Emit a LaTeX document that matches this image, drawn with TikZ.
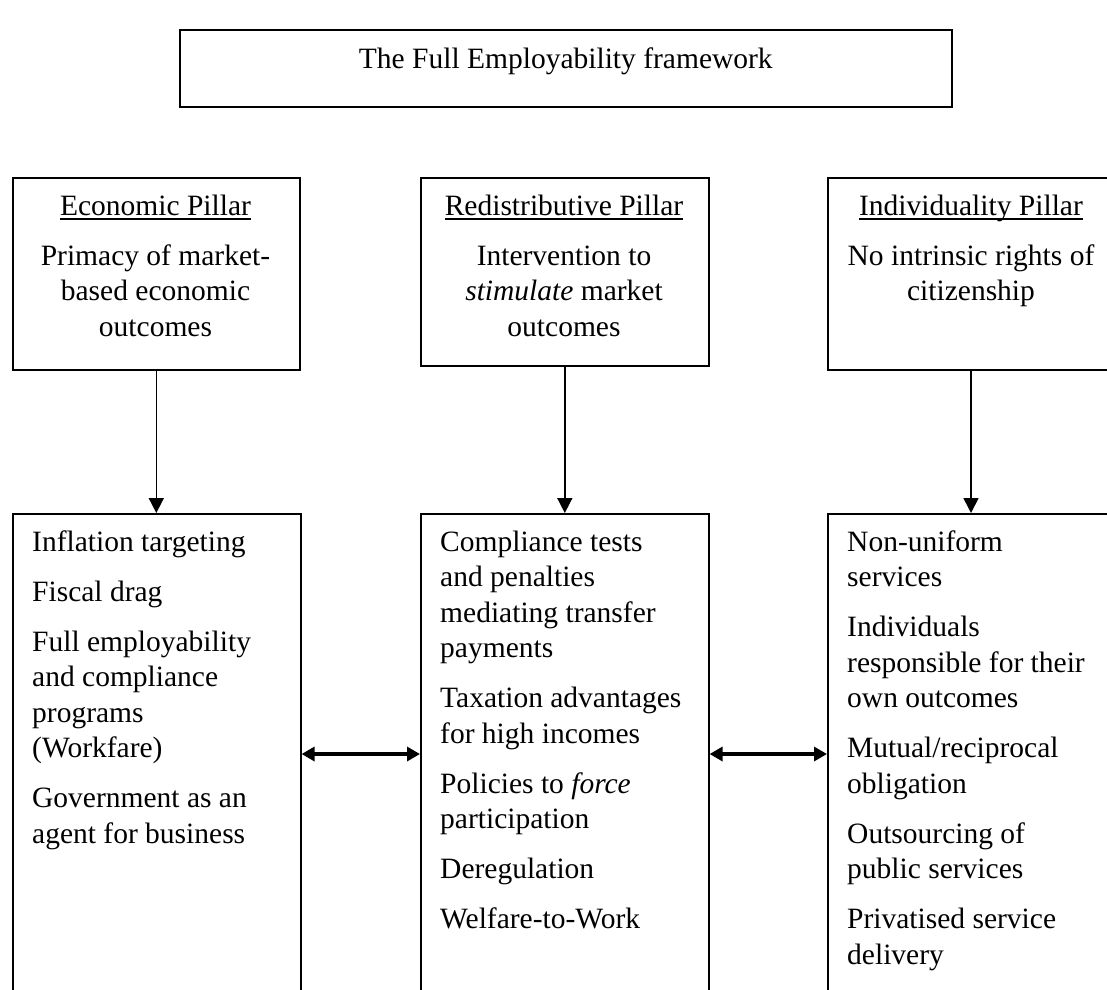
\documentclass[tikz,border=0pt]{standalone}
\usepackage{fontspec}
\setmainfont{Liberation Serif}
\usetikzlibrary{arrows.meta}
\newcommand\myul[1]{\setbox0\hbox{#1}\rlap{\rule[-4.5pt]{\wd0}{1.4pt}}\box0}
\begin{document}
\begin{tikzpicture}[x=1pt,y=-1pt,
  box/.style={draw=black, line width=1.6pt, inner sep=0pt, anchor=north west},
  txt/.style={inner sep=0pt, font=\fontsize{29.5}{35.5}\selectfont},
  listtxt/.style={txt, anchor=north west, align=left},
  headtxt/.style={txt, anchor=north, align=center},
  down/.style={line width=1.6pt, -{Triangle[width=15pt,length=15pt]}},
  both/.style={line width=3.2pt, {Triangle[width=14pt,length=13pt]}-{Triangle[width=14pt,length=13pt]}}]
\clip (0,0) rectangle (1107,989);
\fill[white] (0,0) rectangle (1107,989);
% title
\node[box, minimum width=772pt, minimum height=77pt] (title) at (179,29) {};
\node[headtxt] (titletxt) at (title.north |- 0,43) {\strut The Full Employability framework};
% top pillar boxes
\node[box, minimum width=287pt, minimum height=192pt] (eco) at (12,177) {};
\node[box, minimum width=288pt, minimum height=188pt] (red) at (420,177) {};
\node[box, minimum width=290pt, minimum height=192pt] (ind) at (827,177) {};
\node[headtxt] (ecotxt) at (155.5,190) {\strut\myul{Economic Pillar}\\[14.5pt]Primacy of market-\\based economic\\outcomes};
\node[headtxt] (redtxt) at (564,190) {\strut\myul{Redistributive Pillar}\\[14.5pt]Intervention to\\\textit{stimulate} market\\outcomes};
\node[headtxt] (indtxt) at (971,190) {\strut\myul{Individuality Pillar}\\[14.5pt]No intrinsic rights of\\citizenship};
% bottom boxes
\node[box, minimum width=288pt, minimum height=500pt] (ecol) at (12,513) {};
\node[box, minimum width=288pt, minimum height=500pt] (redl) at (420,513) {};
\node[box, minimum width=290pt, minimum height=500pt] (indl) at (827,513) {};
\node[listtxt] (ecoltxt) at (32,526) {\strut Inflation targeting\\[14.5pt]Fiscal drag\\[14.5pt]Full employability\\and compliance\\programs\\(Workfare)\\[14.5pt]Government as an\\agent for business};
\node[listtxt] (redltxt) at (440,526) {\strut Compliance tests\\and penalties\\mediating transfer\\payments\\[14.5pt]Taxation advantages\\for high incomes\\[14.5pt]Policies to \textit{force}\\participation\\[14.5pt]Deregulation\\[14.5pt]Welfare-to-Work};
\node[listtxt] (indltxt) at (847,526) {\strut Non-uniform\\services\\[14.5pt]Individuals\\responsible for their\\own outcomes\\[14.5pt]Mutual/reciprocal\\obligation\\[14.5pt]Outsourcing of\\public services\\[14.5pt]Privatised service\\delivery};
% connectors
\draw[down] (eco.south) -- (eco.south |- ecol.north);
\draw[down] (red.south) -- (red.south |- redl.north);
\coordinate (indbot) at (971,369);
\draw[down] (indbot) -- (indbot |- indl.north);
\coordinate (a1) at (ecol.east |- 0,754);
\coordinate (a2) at (redl.west |- 0,754);
\coordinate (a3) at (redl.east |- 0,754);
\coordinate (a4) at (indl.west |- 0,754);
\draw[both] (a1) -- (a2);
\draw[both] (a3) -- (a4);
\end{tikzpicture}
\end{document}
